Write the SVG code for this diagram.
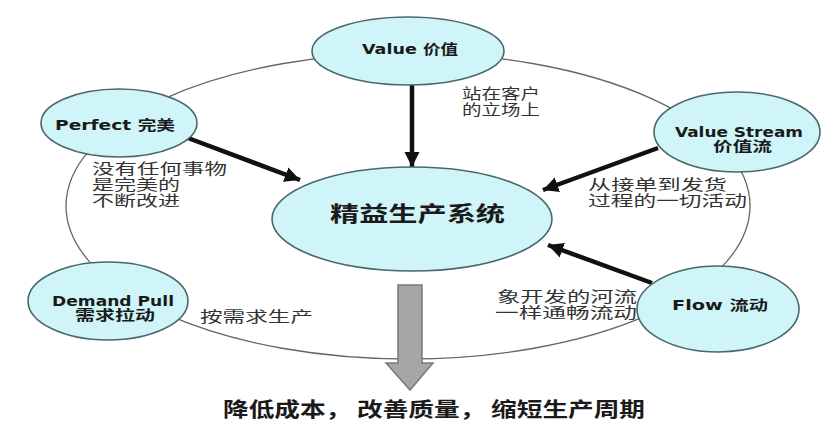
<svg xmlns="http://www.w3.org/2000/svg" width="835" height="431" viewBox="0 0 835 431">
<style>
.node{fill:#cff5f8;stroke:#4a676b;stroke-width:1.6}
.nt{font-family:"DejaVu Sans","Noto Sans CJK SC",sans-serif;font-weight:bold;font-size:14px;fill:#1a1a1a}
.cj{font-family:"Noto Sans CJK SC",sans-serif;font-weight:bold;fill:#1a1a1a}
.lb{font-family:"Noto Sans CJK SC",sans-serif;font-size:14.5px;fill:#333}
.con{stroke:#111;stroke-width:4.5;fill:none;marker-end:url(#ah)}
</style>
<defs>
<marker id="ah" viewBox="0 0 10 10" refX="10" refY="5" markerWidth="3.4" markerHeight="4.4" orient="auto" markerUnits="strokeWidth">
<path d="M0,0 L10,5 L0,10 z" fill="#111"/>
</marker>
</defs>
<rect width="835" height="431" fill="#fff"/>
<ellipse cx="408" cy="206" rx="342" ry="153" fill="none" stroke="#666" stroke-width="1.3"/>
<g id="connectors">
<line class="con" x1="412" y1="85" x2="412" y2="167"/>
<line class="con" x1="188" y1="138" x2="300" y2="180"/>
<line class="con" x1="658" y1="148" x2="543" y2="190"/>
<line class="con" x1="652" y1="283" x2="548" y2="245"/>
<path d="M398,285 H422 V363 H433 L410,390 L386,363 H398 Z" fill="#a6a6a6" stroke="#7a7a7a" stroke-width="1.5"/>
</g>
<g id="center">
<ellipse class="node" cx="412" cy="219" rx="140" ry="52"/>
<text class="cj" x="330" y="221" font-size="21" textLength="175" lengthAdjust="spacingAndGlyphs">精益生产系统</text>
</g>
<g id="value">
<ellipse class="node" cx="408" cy="51" rx="96" ry="34"/>
<text class="nt" x="362" y="54" textLength="96" lengthAdjust="spacingAndGlyphs">Value 价值</text>
</g>
<g id="perfect">
<ellipse class="node" cx="119" cy="123" rx="78" ry="34"/>
<text class="nt" x="55" y="130" textLength="120" lengthAdjust="spacingAndGlyphs">Perfect  完美</text>
</g>
<g id="valuestream">
<ellipse class="node" cx="737" cy="132" rx="83" ry="40"/>
<text class="nt"><tspan x="675" y="137" textLength="128" lengthAdjust="spacingAndGlyphs">Value Stream</tspan><tspan x="713" y="151" textLength="59" lengthAdjust="spacingAndGlyphs">价值流</tspan></text>
</g>
<g id="demandpull">
<ellipse class="node" cx="108" cy="301" rx="80" ry="39"/>
<text class="nt"><tspan x="52" y="306" textLength="122" lengthAdjust="spacingAndGlyphs">Demand Pull</tspan><tspan x="75" y="320" textLength="80" lengthAdjust="spacingAndGlyphs">需求拉动</tspan></text>
</g>
<g id="flow">
<ellipse class="node" cx="718" cy="309" rx="81" ry="43"/>
<text class="nt" x="672" y="310" textLength="96" lengthAdjust="spacingAndGlyphs">Flow  流动</text>
</g>
<g id="labels">
<text class="lb"><tspan x="462" y="99" textLength="78" lengthAdjust="spacingAndGlyphs">站在客户</tspan><tspan x="462" y="115" textLength="78" lengthAdjust="spacingAndGlyphs">的立场上</tspan></text>
<text class="lb"><tspan x="92" y="174" textLength="135" lengthAdjust="spacingAndGlyphs">没有任何事物</tspan><tspan x="92" y="190" textLength="88" lengthAdjust="spacingAndGlyphs">是完美的</tspan><tspan x="92" y="206" textLength="88" lengthAdjust="spacingAndGlyphs">不断改进</tspan></text>
<text class="lb"><tspan x="588" y="190" textLength="139" lengthAdjust="spacingAndGlyphs">从接单到发货</tspan><tspan x="588" y="206" textLength="159" lengthAdjust="spacingAndGlyphs">过程的一切活动</tspan></text>
<text class="lb" x="200" y="322" textLength="113" lengthAdjust="spacingAndGlyphs">按需求生产</text>
<text class="lb"><tspan x="497" y="302" textLength="140" lengthAdjust="spacingAndGlyphs">象开发的河流</tspan><tspan x="495" y="318" textLength="142" lengthAdjust="spacingAndGlyphs">一样通畅流动</tspan></text>
<text class="cj" x="223" y="417" font-size="20" textLength="422" lengthAdjust="spacingAndGlyphs">降低成本， 改善质量， 缩短生产周期</text>
</g>
</svg>
